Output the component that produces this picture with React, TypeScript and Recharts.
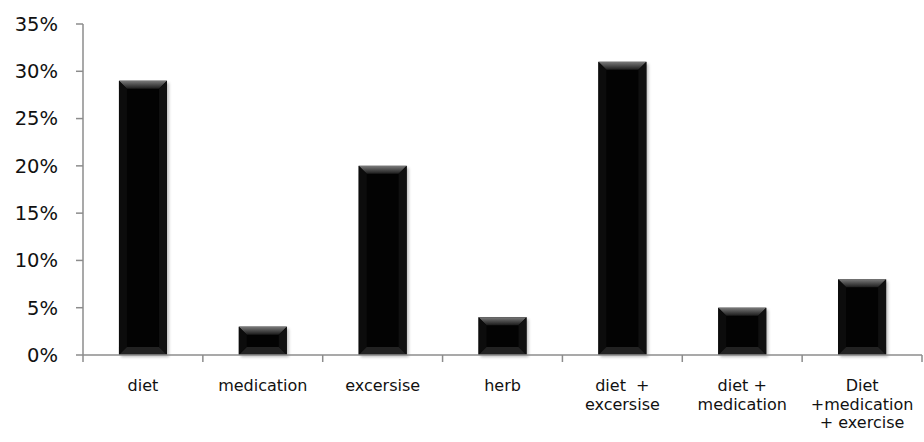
import React from "react";
import { BarChart, Bar, XAxis, YAxis } from "recharts";

const categories = [
  "diet",
  "medication",
  "excersise",
  "herb",
  "diet  +\nexcersise",
  "diet +\nmedication",
  "Diet\n+medication\n+ exercise",
];
const shares = [0.29, 0.03, 0.2, 0.04, 0.31, 0.05, 0.08];
const yTicks = [0, 0.05, 0.1, 0.15, 0.2, 0.25, 0.3, 0.35];

const data = categories.map((name, i) => ({ name, value: shares[i] }));

const W = 924;
const H = 442;
const LEFT = 83;
const RIGHT = 2;
const BAND = (W - LEFT - RIGHT) / categories.length;
const AXIS = "#8c8c8c";
const FONT = "'DejaVu Sans', sans-serif";

const BevelBar = (props: any) => {
  const { x, y, width, height } = props;
  if (!height || height <= 0) return null;
  const b = Math.min(8, height / 2, width / 2);
  return (
    <g>
      <rect x={x + 2} y={y + 2} width={width} height={height} fill="#000" opacity={0.25} filter="url(#soft)" />
      <rect x={x} y={y} width={width} height={height} fill="#030303" />
      <polygon
        points={`${x},${y} ${x + width},${y} ${x + width - b},${y + b} ${x + b},${y + b}`}
        fill="url(#topBevel)"
      />
      <polygon
        points={`${x},${y} ${x + b},${y + b} ${x + b},${y + height - b} ${x},${y + height}`}
        fill="#0c0c0c"
      />
      <polygon
        points={`${x + width},${y} ${x + width - b},${y + b} ${x + width - b},${y + height - b} ${x + width},${y + height}`}
        fill="#101010"
      />
      <polygon
        points={`${x},${y + height} ${x + b},${y + height - b} ${x + width - b},${y + height - b} ${x + width},${y + height}`}
        fill="#222"
      />
    </g>
  );
};

const CatTick = (props: any) => {
  const { x, y, payload, index } = props;
  const lines = String(payload.value).split("\n");
  const half = BAND / 2;
  return (
    <g>
      <line x1={x - half} y1={y - 8} x2={x - half} y2={y - 1} stroke={AXIS} strokeWidth={1.5} />
      {index === categories.length - 1 && (
        <line x1={x + half} y1={y - 8} x2={x + half} y2={y - 1} stroke={AXIS} strokeWidth={1.5} />
      )}
      <text x={x} y={y + 28} textAnchor="middle" fill="#111" fontSize={16} fontFamily={FONT}>
        {lines.map((l, i) => (
          <tspan key={i} x={x} dy={i === 0 ? 0 : 18.7} style={{ whiteSpace: "pre" }}>
            {l}
          </tspan>
        ))}
      </text>
    </g>
  );
};

export default function App() {
  return (
    <div style={{ position: "absolute", left: 0, top: 0, background: "#fff" }}>
      <BarChart
        width={W}
        height={H}
        data={data}
        margin={{ top: 24, right: RIGHT, bottom: 7, left: 0 }}
        barCategoryGap="30%"
      >
        <defs>
          <linearGradient id="topBevel" x1="0" y1="0" x2="0" y2="1">
            <stop offset="0%" stopColor="#7a7a7a" />
            <stop offset="100%" stopColor="#1c1c1c" />
          </linearGradient>
          <filter id="soft" x="-20%" y="-20%" width="140%" height="140%">
            <feGaussianBlur stdDeviation="1.5" />
          </filter>
        </defs>
        <YAxis
          width={LEFT}
          domain={[0, 0.35]}
          ticks={yTicks}
          interval={0}
          tickFormatter={(v: number) => `${Math.round(v * 100)}%`}
          axisLine={{ stroke: AXIS, strokeWidth: 1.5 }}
          tickLine={{ stroke: AXIS, strokeWidth: 1.5 }}
          tickSize={7}
          tickMargin={18}
          tick={{ fill: "#111", fontSize: 19.5, fontFamily: FONT }}
        />
        <XAxis
          dataKey="name"
          height={80}
          interval={0}
          axisLine={{ stroke: AXIS, strokeWidth: 1.5 }}
          tickLine={false}
          tick={<CatTick />}
        />
        <Bar dataKey="value" shape={<BevelBar />} isAnimationActive={false} />
      </BarChart>
    </div>
  );
}
